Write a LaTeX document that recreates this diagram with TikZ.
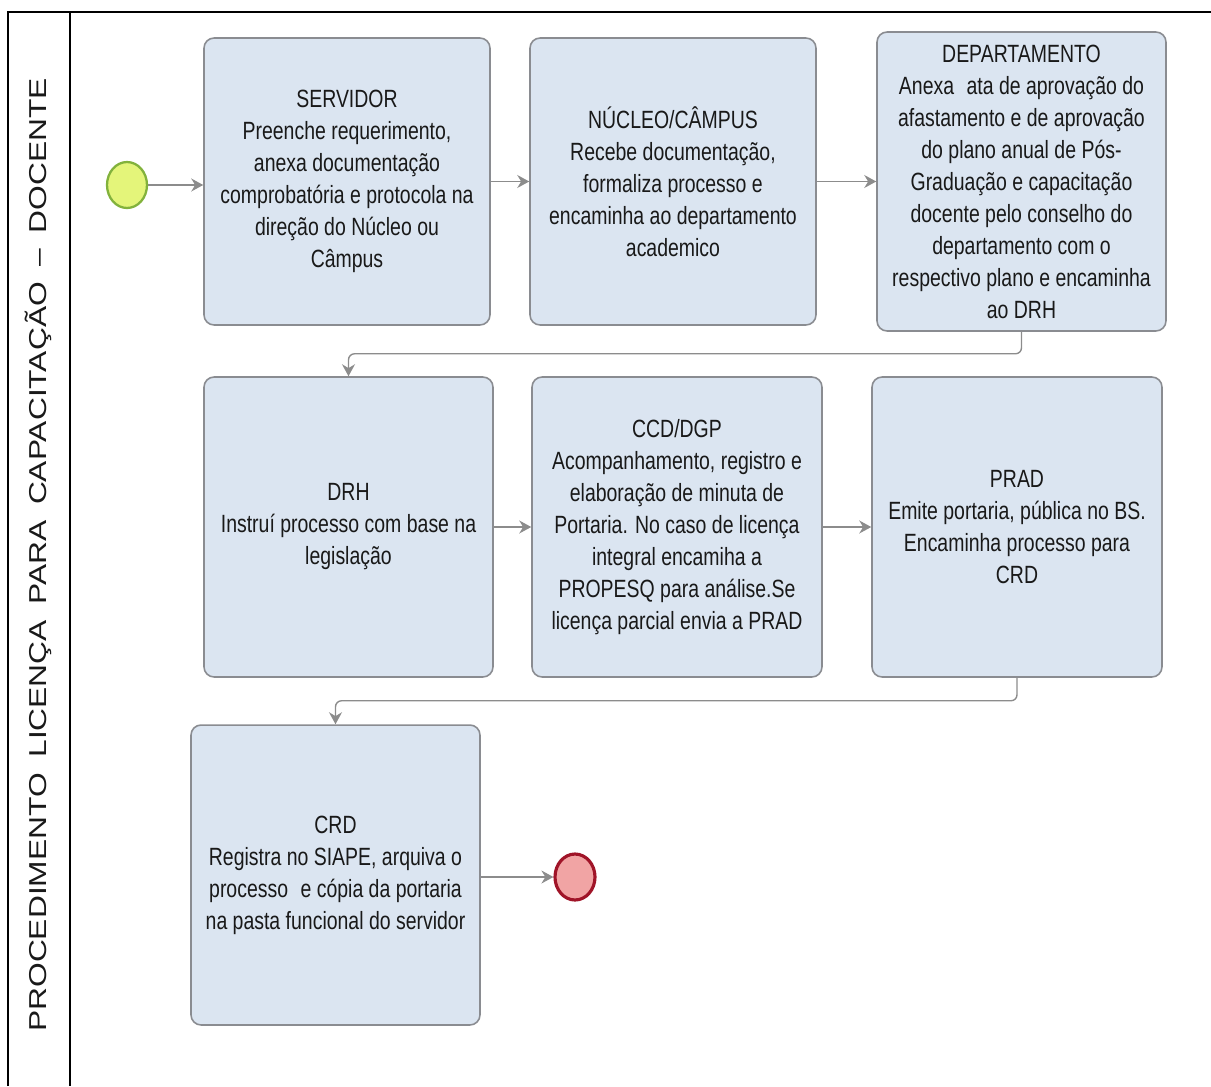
\documentclass[tikz,border=0pt]{standalone}
\usepackage{fontspec}
\setmainfont{Liberation Sans}[FakeStretch=0.78]
\newfontfamily\lanefont{Liberation Sans}[FakeStretch=1.3]
\usetikzlibrary{arrows.meta,positioning,calc,shapes.geometric}
\definecolor{taskblue}{RGB}{219,229,241}
\definecolor{taskedge}{RGB}{138,140,145}
\definecolor{flowgray}{RGB}{140,140,140}
\definecolor{startgreen}{RGB}{228,245,122}
\definecolor{startedge}{RGB}{130,178,60}
\definecolor{endred}{RGB}{241,164,164}
\definecolor{endedge}{RGB}{160,20,40}
\definecolor{txtgray}{RGB}{25,25,25}
\newcommand{\gap}{\hspace{8.8pt}}
\tikzset{
  task/.style={draw=taskedge,fill=taskblue,line width=0.9pt,rounded corners=0.2cm,
               minimum width=5.78cm,minimum height=6cm,align=center,text=txtgray,
               font=\fontsize{14.2}{18.2}\selectfont,inner sep=1pt},
  evt/.style={ellipse,minimum width=0.8cm,minimum height=0.92cm,inner sep=0pt},
  flow/.style={-{Stealth[length=0.24cm,width=0.26cm]},draw=flowgray,line width=0.8pt},
}

\begin{document}
\begin{tikzpicture}[x=0.02cm,y=-0.02cm,
    lane/.style={font=\lanefont\fontsize{13.9}{16}\selectfont,text=txtgray,rotate=90},
    pool/.style={draw=black,line width=0.8pt}
  ]
    \useasboundingbox (0,0) rectangle (1211,1086);
    % pool frame and lane header
    \draw[pool] (8,1086) -- (8,12) -- (1211,12);
    \draw[pool] (70,12) -- (70,1086);
    \node[lane] (title) at (38,555)
      {PROCEDIMENTO\gap LICENÇA\gap PARA\gap CAPACITAÇÃO\gap –\gap DOCENTE};

    % events
    \node[evt,draw=startedge,fill=startgreen,line width=1.3pt] (start) at (127,185) {};
    \node[evt,draw=endedge,fill=endred,line width=1.8pt] (stop) at (575,877) {};

    % tasks
    \node[task,minimum width=5.72cm,minimum height=5.74cm] (serv) at (347,181.5)
      {SERVIDOR\\Preenche requerimento,\\anexa documentação\\comprobatória e protocola na\\direção do Núcleo ou\\Câmpus};
    \node[task,minimum width=5.72cm,minimum height=5.74cm] (nucl) at (673,181.5)
      {NÚCLEO/CÂMPUS\\Recebe documentação,\\formaliza processo e\\encaminha ao departamento\\academico};
    \node[task,minimum height=5.98cm] (dept) at (1021.5,181.5)
      {DEPARTAMENTO\\Anexa\enspace ata de aprovação do\\afastamento e de aprovação\\do plano anual de Pós-\\Graduação e capacitação\\docente pelo conselho do\\departamento com o\\respectivo plano e encaminha\\ao DRH};
    \node[task] (drh) at (348.5,527)
      {DRH\\Instruí processo com base na\\legislação};
    \node[task,minimum width=5.8cm] (ccd) at (677,527)
      {CCD/DGP\\Acompanhamento, registro e\\elaboração de minuta de\\Portaria. No caso de licença\\integral encamiha a\\PROPESQ para análise.Se\\licença parcial envia a PRAD};
    \node[task,minimum width=5.8cm] (prad) at (1017,527)
      {PRAD\\Emite portaria, pública no BS.\\Encaminha processo para\\CRD};
    \node[task] (crd) at (335.5,875)
      {CRD\\Registra no SIAPE, arquiva o\\processo\enspace e cópia da portaria\\na pasta funcional do servidor};

    % sequence flows
    \draw[flow] (start) -- (start -| serv.west);
    \draw[flow] (serv) -- (nucl);
    \draw[flow] (nucl) -- (dept);
    \draw[flow,rounded corners=0.12cm] (dept.south) -- ++(0,22) -| (drh.north);
    \draw[flow] (drh) -- (ccd);
    \draw[flow] (ccd) -- (prad);
    \draw[flow,rounded corners=0.12cm] (prad.south) -- ++(0,23) -| (crd.north);
    \draw[flow] (crd.east |- stop) -- (stop);
  \end{tikzpicture}
\end{document}
